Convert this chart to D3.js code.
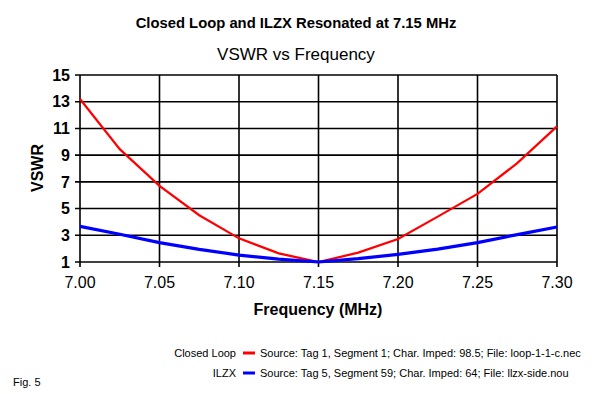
<!DOCTYPE html>
<html>
<head>
<meta charset="utf-8">
<script src="https://cdn.jsdelivr.net/npm/d3@7"></script>
<style>
  body { margin: 0; background: #fff; }
  svg text { font-family: "Liberation Sans", Arial, sans-serif; }
</style>
</head>
<body>
<div id="chart"></div>
<script>
// data
var freqs = [7.000, 7.025, 7.050, 7.075, 7.100, 7.125, 7.150, 7.175, 7.200, 7.225, 7.250, 7.275, 7.300];
var loopVswr = [13.2, 9.45, 6.7, 4.5, 2.77, 1.65, 1.0, 1.7, 2.72, 4.4, 6.1, 8.4, 11.15];
var ilzxVswr = [3.67, 3.08, 2.45, 1.95, 1.52, 1.22, 1.0, 1.25, 1.57, 1.97, 2.45, 3.05, 3.62];
var xTicks = [7.00, 7.05, 7.10, 7.15, 7.20, 7.25, 7.30];
var yTicks = [1, 3, 5, 7, 9, 11, 13, 15];
var legendNames = ["Closed Loop", "ILZX"];
var legendNotes = [
  "Source: Tag 1, Segment 1; Char. Imped: 98.5; File: loop-1-1-c.nec",
  "Source: Tag 5, Segment 59; Char. Imped: 64; File: llzx-side.nou"
];
var colors = ["#ff0000", "#0000ff"];

var width = 592, height = 394;
var margin = { top: 75, right: 35, bottom: 132, left: 80 };
var chartWidth = width - margin.left - margin.right;
var chartHeight = height - margin.top - margin.bottom;

var svg = d3.select("#chart").append("svg")
    .attr("width", width)
    .attr("height", height);

var x = d3.scaleLinear().domain([7.0, 7.3]).range([0, chartWidth]);
var y = d3.scaleLinear().domain([1, 15]).range([chartHeight, 0]);

var chartGroup = svg.append("g")
    .attr("transform", `translate(${margin.left}, ${margin.top})`);

// grid
chartGroup.selectAll(".hgrid").data(yTicks).enter().append("line")
    .attr("x1", -5).attr("x2", chartWidth)
    .attr("y1", d => y(d)).attr("y2", d => y(d))
    .attr("stroke", "#000").attr("stroke-width", 1.6);

chartGroup.selectAll(".vgrid").data(xTicks).enter().append("line")
    .attr("x1", d => x(d)).attr("x2", d => x(d))
    .attr("y1", 0).attr("y2", chartHeight + 5)
    .attr("stroke", "#000").attr("stroke-width", 1.6);

// tick labels
chartGroup.selectAll(".ylab").data(yTicks).enter().append("text")
    .attr("x", -10).attr("y", d => y(d))
    .attr("dy", "0.36em")
    .attr("text-anchor", "end")
    .attr("font-size", 16).attr("font-weight", "bold")
    .text(d => d);

chartGroup.selectAll(".xlab").data(xTicks).enter().append("text")
    .attr("x", d => x(d)).attr("y", chartHeight + 20)
    .attr("dy", "0.36em")
    .attr("text-anchor", "middle")
    .attr("font-size", 16)
    .text(d => d3.format(".2f")(d));

// curves, straight segments between computed points
var line = d3.line().x(d => x(d[0])).y(d => y(d[1]));
var series = [loopVswr, ilzxVswr];
var widths = [2.2, 3.2];
series.forEach(function(vals, i) {
  chartGroup.append("path")
      .datum(freqs.map((f, j) => [f, vals[j]]))
      .attr("fill", "none")
      .attr("stroke", colors[i])
      .attr("stroke-width", widths[i])
      .attr("d", line);
});

// titles
svg.append("text").attr("x", 296).attr("y", 23).attr("dy", "0.36em")
    .attr("text-anchor", "middle").attr("font-size", 14.8).attr("font-weight", "bold")
    .text("Closed Loop and ILZX Resonated at 7.15 MHz");
svg.append("text").attr("x", 296).attr("y", 54).attr("dy", "0.36em")
    .attr("text-anchor", "middle").attr("font-size", 17)
    .text("VSWR vs Frequency");

// axis titles
svg.append("text").attr("x", 318).attr("y", 309).attr("dy", "0.36em")
    .attr("text-anchor", "middle").attr("font-size", 16).attr("font-weight", "bold")
    .text("Frequency (MHz)");
svg.append("text")
    .attr("transform", "translate(37, 168) rotate(-90)")
    .attr("dy", "0.36em")
    .attr("text-anchor", "middle").attr("font-size", 16).attr("font-weight", "bold")
    .text("VSWR");

// legend
var legend = svg.append("g");
legendNames.forEach(function(name, i) {
  var ly = 353 + i * 20;
  legend.append("text").attr("x", 236).attr("y", ly).attr("dy", "0.36em")
      .attr("text-anchor", "end").attr("font-size", 11).text(name);
  legend.append("line").attr("x1", 243).attr("x2", 255)
      .attr("y1", ly).attr("y2", ly)
      .attr("stroke", colors[i]).attr("stroke-width", 3);
  legend.append("text").attr("x", 260).attr("y", ly).attr("dy", "0.36em")
      .attr("font-size", 11).text(legendNotes[i]);
});

svg.append("text").attr("x", 13).attr("y", 382).attr("dy", "0.36em")
    .attr("font-size", 11).text("Fig. 5");
</script>
</body>
</html>
